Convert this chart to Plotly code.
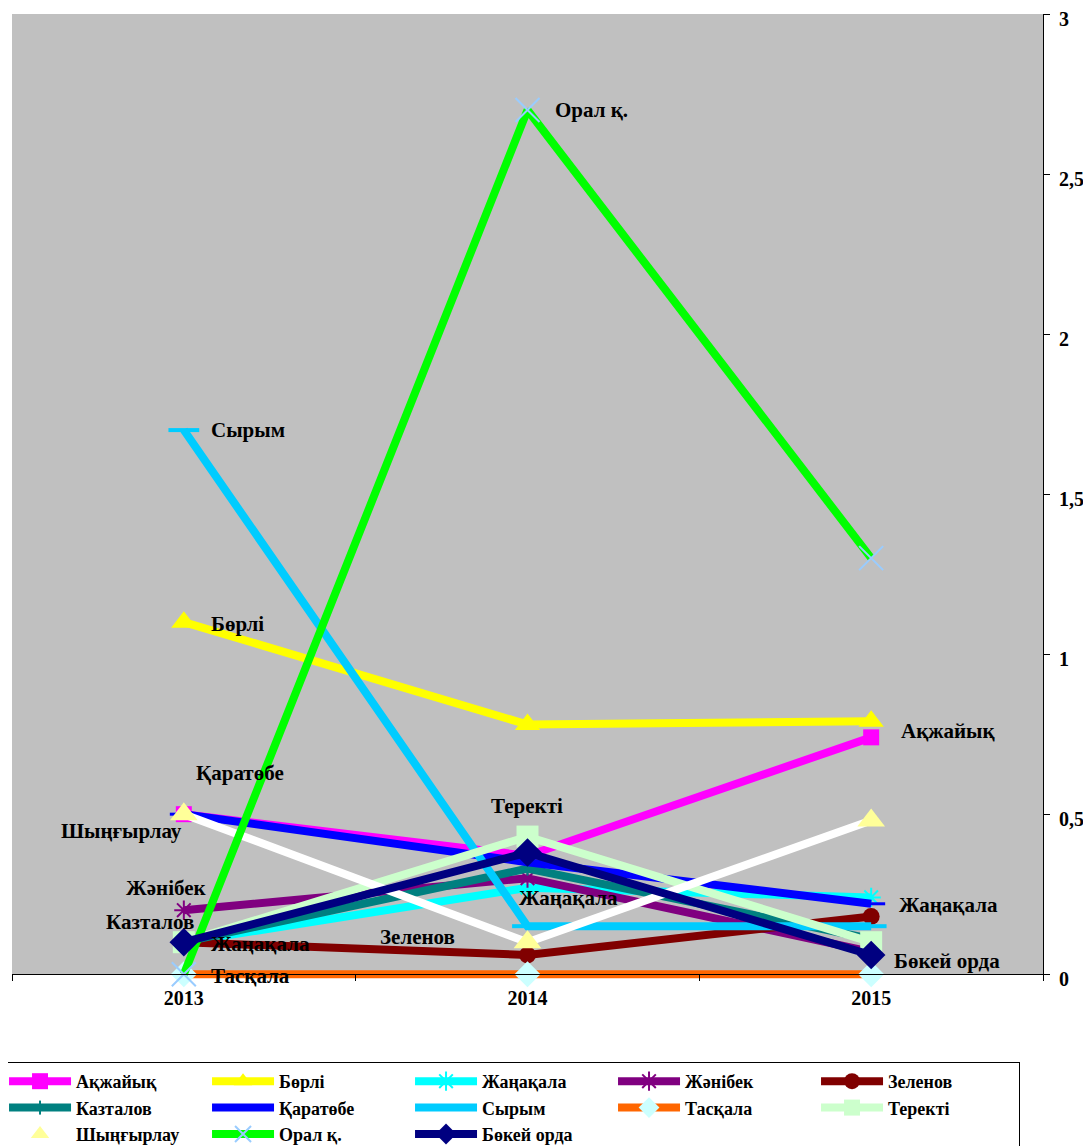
import plotly.graph_objects as go

years = ["2013", "2014", "2015"]

series_names = ["Ақжайық", "Бөрлі", "Жаңақала", "Жәнібек", "Зеленов", "Казталов",
                "Қаратөбе", "Сырым", "Тасқала", "Теректі", "Шыңғырлау", "Орал қ.", "Бөкей орда"]

akzhaiyk = [0.50, 0.37, 0.74]
borli = [1.10, 0.78, 0.79]
zhanakala = [0.10, 0.27, 0.24]
zhanibek = [0.20, 0.30, 0.07]
zelenov = [0.10, 0.06, 0.18]
kaztalov = [0.10, 0.33, 0.11]
karatobe = [0.50, 0.35, 0.22]
syrym = [1.70, 0.15, 0.15]
taskala = [0.0, 0.0, 0.0]
terekti = [0.10, 0.43, 0.10]
shyngyrlau = [0.50, 0.10, 0.48]
oral = [0.0, 2.70, 1.30]
bokei = [0.10, 0.38, 0.06]

all_values = [akzhaiyk, borli, zhanakala, zhanibek, zelenov, kaztalov,
              karatobe, syrym, taskala, terekti, shyngyrlau, oral, bokei]

y_tick_vals = [0, 0.5, 1, 1.5, 2, 2.5, 3]
y_tick_text = ["0", "0,5", "1", "1,5", "2", "2,5", "3"]

Y_MIN, Y_MAX = 0, 3
Y_PAD = 0.015  # small room below zero so lines lying on zero are not clipped

# styles: line color, marker symbol, marker color, marker size, marker line color, marker line width
styles = [
    ("#FF00FF", "square", "#FF00FF", 16, "#FF00FF", 0),
    ("#FFFF00", "triangle-up", "#FFFF00", 22, "#FFFF00", 0),
    ("#00FFFF", "asterisk-open", "#00FFFF", 16, "#00FFFF", 2),
    ("#800080", "asterisk-open", "#800080", 16, "#800080", 2),
    ("#800000", "circle", "#800000", 17, "#800000", 0),
    ("#008080", "line-ns-open", "#008080", 10, "#008080", 2),
    ("#0000FF", "line-ew-open", "#0000FF", 20, "#0000FF", 3),
    ("#00CCFF", "line-ew-open", "#00CCFF", 22, "#00CCFF", 4),
    ("#FF6600", "diamond", "#CCFFFF", 20, "#CCFFFF", 0),
    ("#CCFFCC", "square", "#CCFFCC", 22, "#CCFFCC", 0),
    ("#FFFFFF", "triangle-up", "#FFFF99", 24, "#FFFF99", 0),
    ("#00FF00", "x-thin-open", "#99CCFF", 24, "#99CCFF", 2),
    ("#000080", "diamond", "#000080", 22, "#000080", 0),
]

FONT = "Liberation Serif"
FS = 21

fig = go.Figure()

# grey plot background spanning exactly the value range
fig.add_shape(type="rect", xref="paper", yref="y", x0=0, x1=1, y0=Y_MIN, y1=Y_MAX,
              fillcolor="#C0C0C0", line=dict(width=0), layer="below")

for name, vals, st in zip(series_names, all_values, styles):
    lc, sym, mc, ms, mlc, mlw = st
    fig.add_trace(go.Scatter(
        x=years, y=vals, name=name, mode="lines+markers",
        line=dict(color=lc, width=8),
        marker=dict(symbol=sym, color=mc, size=ms, line=dict(color=mlc, width=mlw)),
        cliponaxis=False,
    ))

# data labels: (series index, point index, xanchor, xshift, yshift)
labels = [
    (7, 0, "left", 25, 0),
    (1, 0, "left", 25, -2),
    (6, 0, "left", 10, 41),
    (10, 0, "right", 0, -17),
    (3, 0, "center", -17, 22),
    (5, 0, "center", -34, 20),
    (2, 0, "left", 25, -2),
    (8, 0, "left", 25, -2),
    (4, 1, "right", -71, 18),
    (9, 1, "center", -1, 31),
    (2, 1, "left", -11, -10),
    (11, 1, "left", 25, 0),
    (0, 2, "left", 28, 6),
    (2, 2, "left", 26, -8),
    (12, 2, "left", 21, -6),
]
for si, pi, xa, xs, ys in labels:
    fig.add_annotation(
        x=pi, y=all_values[si][pi], xref="x", yref="y", text=series_names[si],
        showarrow=False, xanchor=xa, yanchor="middle", xshift=xs, yshift=ys,
        font=dict(family=FONT, size=FS, color="black", weight="bold"),
    )

fig.update_layout(
    width=1083, height=1138,
    margin=dict(l=4, r=48, t=6, b=167, autoexpand=False),
    paper_bgcolor="white",
    plot_bgcolor="white",
    font=dict(family=FONT, size=FS, color="black", weight="bold"),
    showlegend=True,
    legend=dict(
        orientation="h", x=-0.0087, xanchor="left", y=-0.086, yanchor="top",
        bordercolor="black", borderwidth=1, bgcolor="white",
        itemwidth=62, entrywidth=126, entrywidthmode="pixels",
        font=dict(family=FONT, size=18, color="black", weight="bold"),
        tracegroupgap=0,
    ),
    xaxis=dict(
        type="category", range=[-0.5, 2.5], showgrid=False, zeroline=False,
        anchor="free", position=Y_PAD / (Y_MAX + Y_PAD),
        showline=True, linecolor="black", linewidth=1,
        ticks="outside", tickson="boundaries", ticklen=6, tickcolor="black",
        ticklabelstandoff=6,
        tickfont=dict(family=FONT, size=20, color="black", weight="bold"),
    ),
    yaxis=dict(
        side="right", range=[Y_MIN - Y_PAD, Y_MAX], showgrid=False, zeroline=False,
        showline=True, linecolor="black", linewidth=1,
        ticks="outside", ticklen=6, tickcolor="black",
        ticklabelstandoff=5, ticklabeloverflow="allow", ticklabelshift=5,
        tickvals=y_tick_vals, ticktext=y_tick_text,
        tickfont=dict(family=FONT, size=20, color="black", weight="bold"),
    ),
)

fig.write_html("out.html")
